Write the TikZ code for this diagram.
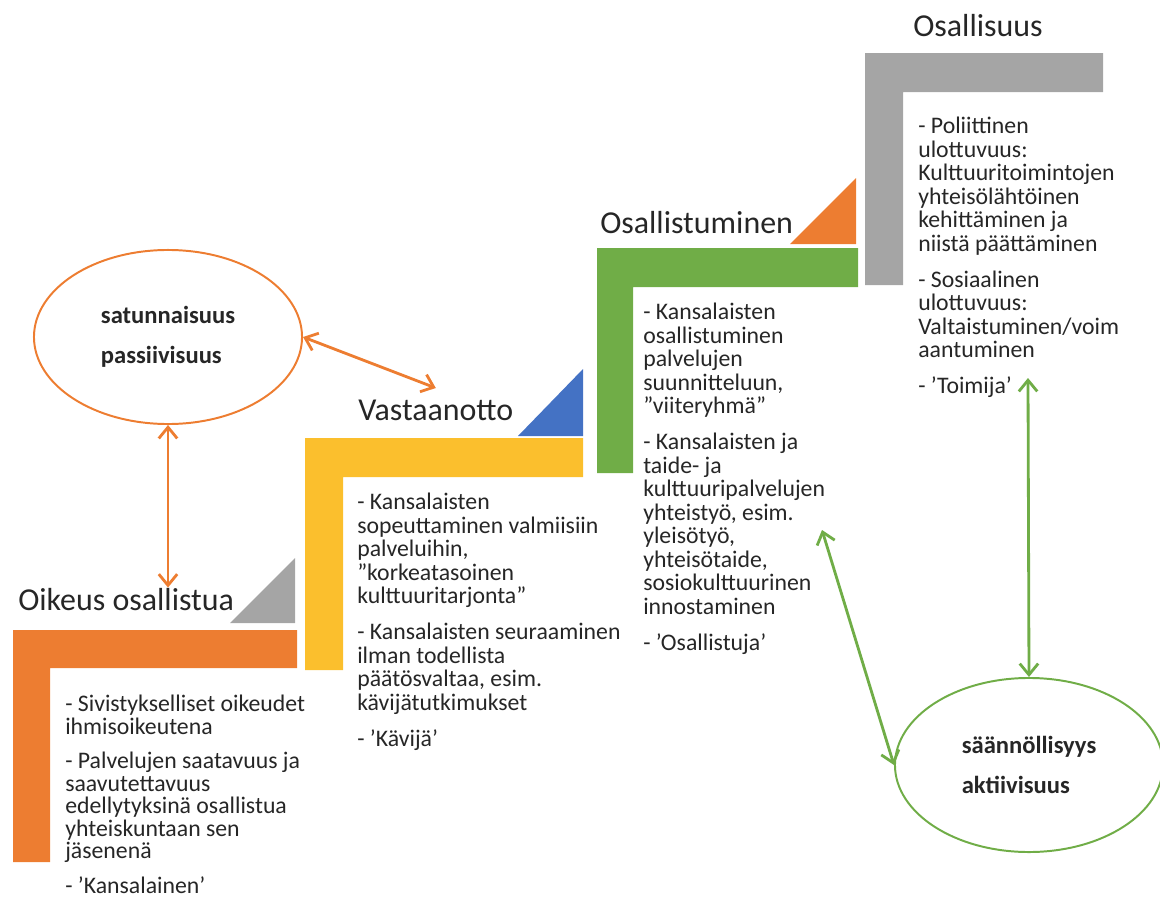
\documentclass[tikz,border=0pt]{standalone}
\usepackage{fontspec}
\setmainfont{Carlito}
\usepackage{tikz}
\usetikzlibrary{arrows.meta,shapes.geometric}
\usetikzlibrary{positioning}
\definecolor{clrOrange}{HTML}{ED7D31}
\definecolor{clrYellow}{HTML}{FBBF2D}
\definecolor{clrBlue}{HTML}{4472C4}
\definecolor{clrGreen}{HTML}{70AD47}
\definecolor{clrGray}{HTML}{A5A5A5}
\definecolor{clrText}{HTML}{262626}
\tikzstyle{stage_title}=[anchor=base west, inner sep=0pt, text=clrText, font=\fontsize{22.7}{27}\selectfont]
\tikzstyle{stage_text}=[anchor=north west, inner sep=0pt, align=left, text=clrText, font=\fontsize{16.9}{16.7}\selectfont]
\tikzstyle{mode_ellipse}=[ellipse, draw, line width=1.4pt, align=left, text=clrText,
minimum width=6.7cm, minimum height=4.35cm, font=\bfseries\fontsize{17.5}{28.4}\selectfont]
\tikzstyle{myarrow}=[{Straight Barb[length=2.8mm,width=4.6mm]}-{Straight Barb[length=2.8mm,width=4.6mm]}, line width=2pt]

\begin{document}
\begin{tikzpicture}[x=0.025cm, y=-0.025cm]
		\useasboundingbox (0,0) rectangle (1160,901);

		% portaat
		\fill[clrOrange] (13,630) -- (297,630) -- (297,668) -- (50,668) -- (50,862) -- (13,862) -- cycle;
		\fill[clrYellow] (305,438) -- (583,438) -- (583,477) -- (343,477) -- (343,670) -- (305,670) -- cycle;
		\fill[clrGreen] (597,248) -- (858,248) -- (858,287) -- (633,287) -- (633,473) -- (597,473) -- cycle;
		\fill[clrGray] (865,53) -- (1103,53) -- (1103,92) -- (903,92) -- (903,285) -- (865,285) -- cycle;

		\fill[clrGray] (230,623) -- (295,623) -- (295,558) -- cycle;
		\fill[clrBlue] (518,436) -- (583,436) -- (583,369) -- cycle;
		\fill[clrOrange] (790,244) -- (856,244) -- (856,178) -- cycle;

		\node[stage_title] (oik) at (18,610) {Oikeus osallistua};
		\node[stage_title] (vast) at (358,420) {Vastaanotto};
		\node[stage_title] (osal) at (600,233) {Osallistuminen};
		\node[stage_title] (osuus) at (913,36) {Osallisuus};

		\node[stage_text, font=\fontsize{16.9}{16}\selectfont] (oiktext) at (65,695) {- Sivistykselliset oikeudet\\ihmisoikeutena\\[8.5pt]- Palvelujen saatavuus ja\\saavutettavuus\\edellytyksinä osallistua\\yhteiskuntaan sen\\jäsenenä\\[8.5pt]- ’Kansalainen’};

		\node[stage_text] (vasttext) at (357,493) {- Kansalaisten\\sopeuttaminen valmiisiin\\palveluihin,\\”korkeatasoinen\\kulttuuritarjonta”\\[9pt]- Kansalaisten seuraaminen\\ilman todellista\\päätösvaltaa, esim.\\kävijätutkimukset\\[9pt]- ’Kävijä’};

		\node[stage_text] (osaltext) at (643,303) {- Kansalaisten\\osallistuminen\\palvelujen\\suunnitteluun,\\”viiteryhmä”\\[9pt]- Kansalaisten ja\\taide- ja\\kulttuuripalvelujen\\yhteistyö, esim.\\yleisötyö,\\yhteisötaide,\\sosiokulttuurinen\\innostaminen\\[9pt]- ’Osallistuja’};

		\node[stage_text] (osuustext) at (918,117) {- Poliittinen\\ulottuvuus:\\Kulttuuritoimintojen\\yhteisölähtöinen\\kehittäminen ja\\niistä päättäminen\\[9pt]- Sosiaalinen\\ulottuvuus:\\Valtaistuminen/voim\\aantuminen\\[9pt]- ’Toimija’};

		\node[mode_ellipse, draw=clrOrange] (sat) at (168,337) {satunnaisuus\\passiivisuus};
		\node[mode_ellipse, draw=clrGreen] (akt) at (1029,765) {säännöllisyys\\aktiivisuus};

		\coordinate (toimija end) at (1028,378);
		\coordinate (yhteistyo end) at (822,530);

		\draw[myarrow, clrOrange] (sat.east) -- ([yshift=8pt]vast.north);
		\draw[myarrow, clrOrange] (sat.south) -- (sat.south |- oik.north);
		\draw[myarrow, clrGreen] (akt.north) -- (toimija end);
		\draw[myarrow, clrGreen] (akt.west) -- (yhteistyo end);

	\end{tikzpicture}
\end{document}
